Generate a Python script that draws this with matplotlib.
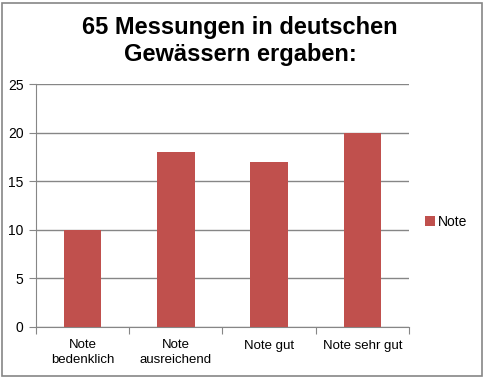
import matplotlib.pyplot as plt
from matplotlib.patches import Rectangle

categories = ["Note\nbedenklich", "Note\nausreichend", "Note gut", "Note sehr gut"]
values = [10, 18, 17, 20]
series_name = "Note"

bar_color = "#C0504D"
grid_color = "#868686"

plt.rcParams['font.family'] = ['Liberation Sans', 'DejaVu Sans']

fig = plt.figure(figsize=(4.85, 3.78), dpi=100)
# plot area in pixels: left 36, right 409, top 84, bottom 327
ax = fig.add_axes([36 / 485, 1 - 327 / 378, (409 - 36) / 485, (327 - 84) / 378])

xs = range(len(categories))
ax.bar(xs, values, width=0.4, color=bar_color, label=series_name, zorder=3)

ax.set_xlim(-0.5, len(categories) - 0.5)
ax.set_ylim(0, 25)
ax.set_yticks(range(0, 26, 5))
ax.yaxis.grid(True, color=grid_color, linewidth=1, zorder=0)

# category labels between boundary ticks
ax.set_xticks([i + 0.5 for i in range(-1, len(categories))])
ax.set_xticklabels([])
ax.set_xticks(list(xs), minor=True)
ax.set_xticklabels(categories, minor=True, fontsize=9.5, linespacing=1.3)
ax.tick_params(axis='x', which='minor', length=0, pad=9)
ax.tick_params(axis='x', which='major', length=5, color=grid_color, direction='out')
ax.tick_params(axis='y', length=5, color=grid_color, labelsize=10, pad=4)

for side in ['top', 'right']:
    ax.spines[side].set_visible(False)
ax.spines['left'].set_color(grid_color)
ax.spines['bottom'].set_color(grid_color)

fig.text(0.495, 1 - 41 / 378, "65 Messungen in deutschen\nGewässern ergaben:",
         ha='center', va='center', fontsize=17, fontweight='bold', linespacing=1.2)

# legend
fig.legend(loc='center left', bbox_to_anchor=(425 / 485, 1 - 222 / 378), frameon=False,
           fontsize=10, handlelength=0.7, handleheight=0.7, handletextpad=0.2,
           borderaxespad=0, borderpad=0)

# outer border of chart area
fig.patches.append(Rectangle((2 / 485, 2 / 378), 480 / 485, 373 / 378, transform=fig.transFigure,
                             fill=False, edgecolor=grid_color, linewidth=1.2))

fig.savefig("out.png", dpi=100)
